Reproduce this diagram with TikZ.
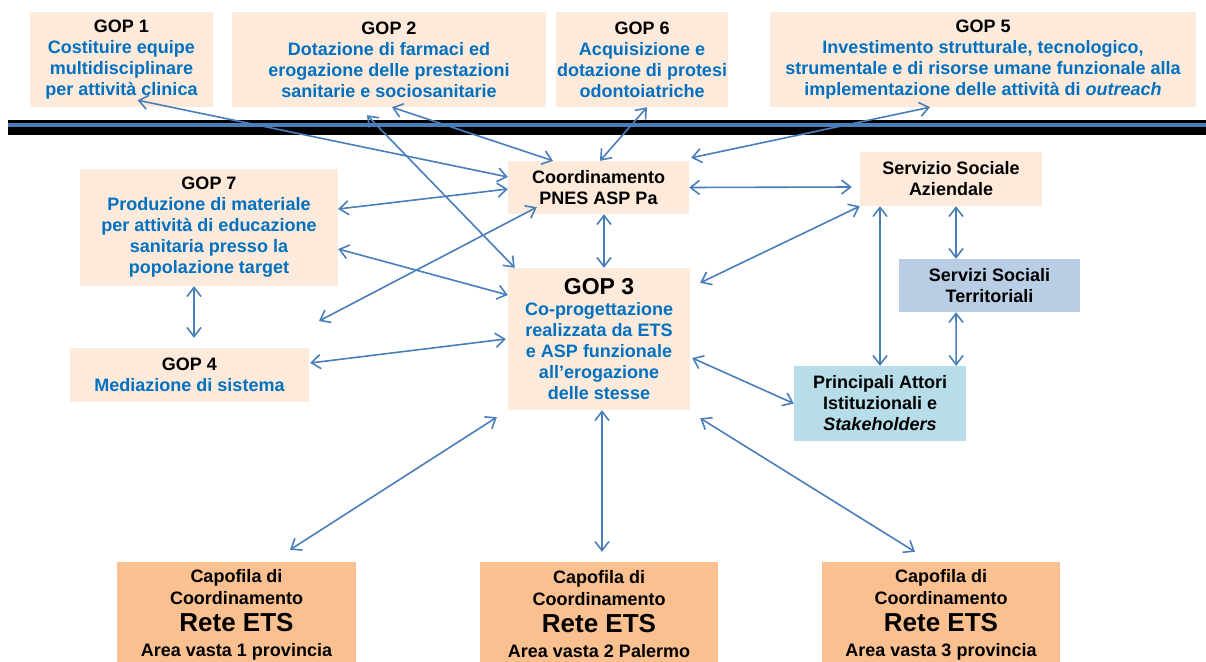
\documentclass[tikz,border=0pt]{standalone}
\usepackage{fontspec}
\setmainfont{Liberation Sans}
\usetikzlibrary{arrows.meta}
\definecolor{peach}{RGB}{253,234,218}
\definecolor{capo}{RGB}{250,192,144}
\definecolor{sstc}{RGB}{185,205,229}
\definecolor{paic}{RGB}{183,222,232}
\definecolor{ablue}{RGB}{74,126,187}
\definecolor{tblue}{RGB}{0,112,192}
\newcommand{\hd}[1]{{\color{black}#1}}
\begin{document}
\begin{tikzpicture}[x=1pt,y=-1pt,
 box/.style={rectangle, fill=peach, inner sep=0pt, align=center, font=\bfseries\fontsize{18}{21}\selectfont},
 gopbox/.style={box, text=tblue},
 capbox/.style={box, fill=capo, minimum width=239pt, minimum height=105pt, font=\bfseries\fontsize{18}{22}\selectfont},
 arr/.style={{Straight Barb[length=9pt,width=14pt]}-{Straight Barb[length=9pt,width=14pt]}, draw=ablue, line width=1.6pt}]
\useasboundingbox (0,0) rectangle (1206,661);
\fill[white] (0,0) rectangle (1206,661);
% band
\fill[black] (8,120) rectangle (1206,135);
\fill[ablue] (8,122.5) rectangle (1206,127);
% top boxes
\node[gopbox, minimum width=183pt, minimum height=95pt] (gop1) at (121.5,59.5)
 {\hd{GOP 1}\\Costituire equipe\\multidisciplinare\\per attività clinica};
\node[gopbox, minimum width=314pt, minimum height=95pt] (gop2) at (389,59.5)
 {\hd{GOP 2}\\Dotazione di farmaci ed\\erogazione delle prestazioni\\sanitarie e sociosanitarie};
\node[gopbox, minimum width=172pt, minimum height=95pt] (gop6) at (642,59.5)
 {\hd{GOP 6}\\Acquisizione e\\dotazione di protesi\\odontoiatriche};
\node[gopbox, minimum width=426pt, minimum height=95pt] (gop5) at (983,59.5)
 {\hd{GOP 5}\\Investimento strutturale, tecnologico,\\strumentale e di risorse umane funzionale alla\\implementazione delle attività di \textit{outreach}};
% middle
\node[box, minimum width=181pt, minimum height=53pt] (coord) at (598.5,187.5)
 {Coordinamento\\PNES ASP Pa};
\node[box, minimum width=182pt, minimum height=54pt] (ssa) at (951,179)
 {Servizio Sociale\\Aziendale};
\node[box, fill=sstc, minimum width=181pt, minimum height=53pt] (sst) at (989.5,285.5)
 {Servizi Sociali\\Territoriali};
\node[box, fill=paic, minimum width=172pt, minimum height=75pt] (pai) at (880,403.5)
 {Principali Attori\\Istituzionali e\\\textit{Stakeholders}};
\node[gopbox, minimum width=258pt, minimum height=117pt] (gop7) at (209,227.5)
 {\hd{GOP 7}\\Produzione di materiale\\per attività di educazione\\sanitaria presso la\\popolazione target};
\node[gopbox, minimum width=239pt, minimum height=54pt] (gop4) at (189.5,375)
 {\hd{GOP 4}\\Mediazione di sistema};
\node[gopbox, minimum width=182pt, minimum height=142pt] (gop3) at (599,339)
 {\hd{\fontsize{23}{24}\selectfont GOP 3}\\Co-progettazione\\realizzata da ETS\\e ASP funzionale\\all’erogazione\\delle stesse};
% bottom
\node[capbox] (cap1) at (236.5,614.5)
 {Capofila di\\Coordinamento\\[5pt]{\fontsize{26}{26}\selectfont Rete ETS}\\[3pt]Area vasta 1 provincia};
\node[capbox, minimum width=238pt] (cap2) at (599,614.5)
 {Capofila di\\Coordinamento\\[5pt]{\fontsize{26}{26}\selectfont Rete ETS}\\[3pt]Area vasta 2 Palermo};
\node[capbox, minimum width=238pt] (cap3) at (941,614.5)
 {Capofila di\\Coordinamento\\[5pt]{\fontsize{26}{26}\selectfont Rete ETS}\\[3pt]Area vasta 3 provincia};
\coordinate (free1) at (319,321);
% connectors
\draw[arr] ([xshift=16pt,yshift=7pt]gop1.south) -- ([yshift=10.5pt]coord.west);
\draw[arr] ([yshift=18.5pt]gop7.east) -- ([yshift=-1.5pt]coord.west);
\draw[arr] ([xshift=3pt]gop2.south) -- ([xshift=-45.5pt]coord.north);
\draw[arr] ([xshift=5pt]gop6.south) -- ([xshift=1.5pt]coord.north);
\draw[arr] ([xshift=-53pt]gop5.south) -- ([xshift=2pt,yshift=3pt]coord.north east);
\draw[arr] ([xshift=-22pt,yshift=-8pt]gop2.south) -- ([xshift=7pt]gop3.north west);
\draw[arr] (coord.east) -- ([xshift=-8pt,yshift=-8pt]ssa.west);
\draw[arr] ([xshift=5.5pt]coord.south) -- ([xshift=5pt]gop3.north);
\draw[arr] (free1) -- ([xshift=29pt,yshift=7pt]coord.south west);
\draw[arr] ([yshift=-21.5pt]gop7.east) -- ([yshift=44pt]gop3.west);
\draw[arr] ([xshift=1pt,yshift=12pt]gop4.east) -- ([xshift=-2pt]gop3.west);
\draw[arr] ([xshift=-15pt]gop7.south) -- ([xshift=4.5pt,yshift=10pt]gop4.north);
\draw[arr] ([xshift=10pt,yshift=-15pt]gop3.north east) -- (ssa.south west);
\draw[arr] ([xshift=-71pt]ssa.south) -- (pai.north);
\draw[arr] ([xshift=5pt]ssa.south) -- ([xshift=-33.5pt]sst.north);
\draw[arr] ([xshift=-33.5pt]sst.south) -- ([xshift=-10pt]pai.north east);
\draw[arr] ([xshift=2pt,yshift=-19pt]gop3.east) -- (pai.west);
\draw[arr] ([xshift=-11pt,yshift=-7pt]gop3.south west) -- ([xshift=53.5pt,yshift=12pt]cap1.north);
\draw[arr] ([xshift=3pt]gop3.south) -- ([xshift=3pt,yshift=10pt]cap2.north);
\draw[arr] ([xshift=10pt,yshift=-8pt]gop3.south east) -- ([xshift=-26pt,yshift=10pt]cap3.north);
\end{tikzpicture}
\end{document}
